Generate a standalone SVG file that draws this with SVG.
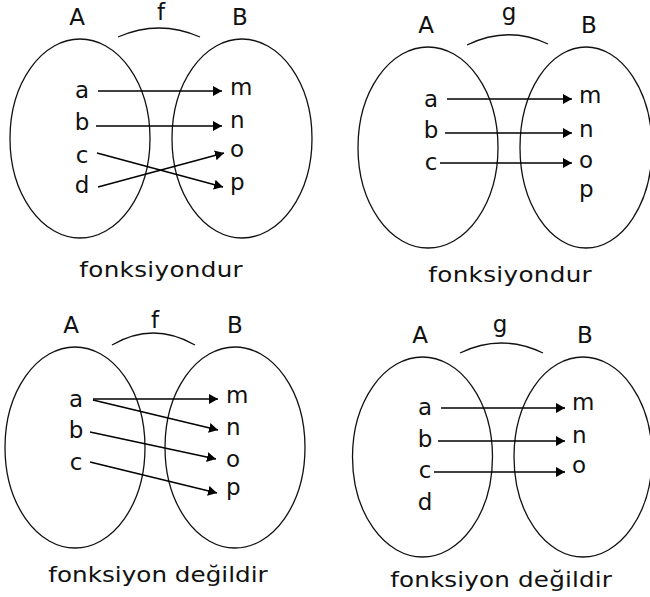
<svg xmlns="http://www.w3.org/2000/svg" width="650" height="597" viewBox="0 0 650 597">
<style>
.set{fill:none;stroke:#111;stroke-width:1.3}
.arc{fill:none;stroke:#111;stroke-width:1.3}
.arr{fill:none;stroke:#000;stroke-width:1.4;marker-end:url(#ah)}
text{font-family:"DejaVu Sans","Liberation Sans",sans-serif;font-size:23px;fill:#111}
.cap{font-size:22px;text-anchor:middle}
.m{text-anchor:middle}
</style>
<defs>
<marker id="ah" markerUnits="userSpaceOnUse" markerWidth="10" markerHeight="12" refX="9" refY="5" orient="auto">
<path d="M0,0 L9,5 L0,10 z" fill="#000"/>
</marker>
</defs>
<rect width="650" height="597" fill="#fff"/>

<!-- Panel 1 -->
<g id="p1-setA">
<ellipse class="set" cx="80" cy="138.5" rx="70" ry="99.5"/>
<text class="m" x="77" y="25">A</text>
<text class="m" x="82" y="98">a</text>
<text class="m" x="82" y="130">b</text>
<text class="m" x="82" y="163">c</text>
<text class="m" x="82" y="193">d</text>
</g>
<g id="p1-setB">
<ellipse class="set" cx="242" cy="138.5" rx="70" ry="99.5"/>
<text class="m" x="240" y="25">B</text>
<text x="230" y="95">m</text>
<text x="230" y="128">n</text>
<text x="230" y="157">o</text>
<text x="230" y="190">p</text>
</g>
<g id="p1-f">
<path class="arc" d="M118,37 Q159,19 200,37"/>
<text class="m" x="161" y="20">f</text>
</g>
<g id="p1-caption"><text class="cap" transform="translate(161,277) scale(1.12,1)" textLength="146" lengthAdjust="spacing">fonksiyondur</text></g>

<!-- Panel 2 -->
<g id="p2-setA">
<ellipse class="set" cx="428" cy="147.5" rx="70" ry="100.5"/>
<text class="m" x="426" y="33">A</text>
<text class="m" x="431" y="107">a</text>
<text class="m" x="431" y="138">b</text>
<text class="m" x="431" y="170">c</text>
</g>
<g id="p2-setB">
<ellipse class="set" cx="586" cy="147.5" rx="66" ry="100.5"/>
<text class="m" x="589" y="33">B</text>
<text x="579" y="103">m</text>
<text x="579" y="137">n</text>
<text x="579" y="168">o</text>
<text x="579" y="197">p</text>
</g>
<g id="p2-g">
<path class="arc" d="M467,45 Q508,25 548,44"/>
<text class="m" x="509" y="20">g</text>
</g>
<g id="p2-caption"><text class="cap" transform="translate(510,282) scale(1.12,1)" textLength="146" lengthAdjust="spacing">fonksiyondur</text></g>

<!-- Panel 3 -->
<g id="p3-setA">
<ellipse class="set" cx="75" cy="447.5" rx="70" ry="100.5"/>
<text class="m" x="71" y="333">A</text>
<text class="m" x="76" y="407">a</text>
<text class="m" x="76" y="438">b</text>
<text class="m" x="76" y="470">c</text>
</g>
<g id="p3-setB">
<ellipse class="set" cx="235" cy="447.5" rx="70" ry="100.5"/>
<text class="m" x="235" y="333">B</text>
<text x="226" y="403">m</text>
<text x="226" y="435">n</text>
<text x="226" y="467">o</text>
<text x="226" y="495">p</text>
</g>
<g id="p3-f">
<path class="arc" d="M112,345 Q153,321 195,345"/>
<text class="m" x="155" y="328">f</text>
</g>
<g id="p3-caption"><text class="cap" transform="translate(158,582) scale(1.12,1)" textLength="196" lengthAdjust="spacing">fonksiyon değildir</text></g>

<!-- Panel 4 -->
<g id="p4-setA">
<ellipse class="set" cx="422.5" cy="457" rx="70" ry="100"/>
<text class="m" x="420" y="343">A</text>
<text class="m" x="425" y="415">a</text>
<text class="m" x="425" y="447">b</text>
<text class="m" x="425" y="478">c</text>
<text class="m" x="425" y="510">d</text>
</g>
<g id="p4-setB">
<ellipse class="set" cx="583" cy="457" rx="69" ry="100"/>
<text class="m" x="585" y="343">B</text>
<text x="572" y="410">m</text>
<text x="572" y="443">n</text>
<text x="572" y="473">o</text>
</g>
<g id="p4-g">
<path class="arc" d="M460,353 Q501,333 543,353"/>
<text class="m" x="500" y="332">g</text>
</g>
<g id="p4-caption"><text class="cap" transform="translate(501,587) scale(1.12,1)" textLength="198" lengthAdjust="spacing">fonksiyon değildir</text></g>

<!-- Connectors -->
<g id="connectors">
<path class="arr" d="M98,91 H222"/>
<path class="arr" d="M96,126 H222"/>
<path class="arr" d="M97,153 L223,187"/>
<path class="arr" d="M98,187 L224,153"/>
<path class="arr" d="M447,99 H572"/>
<path class="arr" d="M445,133 H572"/>
<path class="arr" d="M440,163 H572"/>
<path class="arr" d="M93,399 H218"/>
<path class="arr" d="M93,400 L218,430"/>
<path class="arr" d="M90,432 L216,459"/>
<path class="arr" d="M90,462 L217,493"/>
<path class="arr" d="M441,408 H565"/>
<path class="arr" d="M438,441 H565"/>
<path class="arr" d="M434,472 H565"/>
</g>
</svg>
